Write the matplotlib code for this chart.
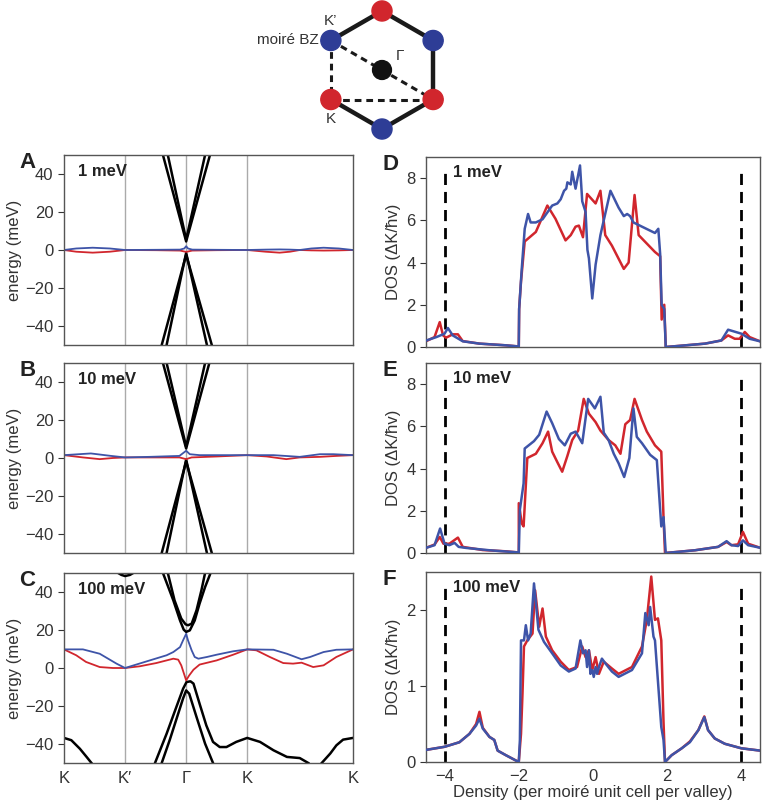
import numpy as np
import matplotlib
matplotlib.use("Agg")
import matplotlib.pyplot as plt
from matplotlib.patches import Circle

plt.rcParams['font.family'] = ['Liberation Sans', 'DejaVu Sans']

RED = "#d1262d"
BLUE = "#3e54a8"
GREY = "#333333"

# ---------------- band structure data (path coordinate: K=0, K'=1, G=2, K=3, K=3+sqrt3)
k_ticks = [0, 1, 2, 3, 4.732]
k_labels = ["K", "K\u2032", "\u0393", "K", "K"]

# panel A (1 meV)
a_blue_k = [0, 0.2, 0.47, 0.75, 1.0, 1.5, 1.9, 1.97, 2.0, 2.03, 2.1, 2.5, 3.0, 3.3, 3.53, 3.7, 3.86, 4.05, 4.25, 4.5, 4.732]
a_blue_e = [0, 0.8, 1.2, 0.8, 0, 0.1, 0.2, 0.8, 2.0, 0.8, 0.2, 0.1, 0, 0.2, 0.3, 0.2, 0, 0.8, 1.2, 0.8, 0]
a_red_k = [0, 0.2, 0.47, 0.75, 1.0, 1.5, 1.9, 2.0, 2.1, 2.5, 3.0, 3.3, 3.53, 3.7, 3.86, 4.05, 4.25, 4.5, 4.732]
a_red_e = [0, -0.9, -1.4, -0.9, 0, -0.1, -0.3, -1.0, -0.3, -0.1, 0, -0.9, -1.4, -0.9, 0, -0.2, -0.3, -0.2, 0]
a_black = [
    ([1.62, 2.0, 2.39], [50, 4.5, 50]),
    ([1.70, 2.0, 2.31], [50, 5.5, 50]),
    ([1.60, 2.0, 2.42], [-50, -2.5, -50]),
    ([1.68, 2.0, 2.34], [-50, -1.5, -50]),
]

# panel B (10 meV)
b_blue_k = [0, 0.44, 0.77, 1.0, 1.4, 1.89, 2.0, 2.06, 2.22, 3.0, 3.43, 3.86, 4.19, 4.41, 4.732]
b_blue_e = [1.5, 2.4, 1.1, 0.3, 0.6, 1.1, 3.8, 2.0, 1.5, 1.5, 1.5, 0.6, 2.0, 2.0, 1.5]
b_red_k = [0, 0.31, 0.585, 0.8, 1.0, 1.4, 1.89, 2.0, 2.09, 2.5, 3.0, 3.32, 3.64, 3.86, 4.19, 4.46, 4.732]
b_red_e = [1.5, 0.3, -0.6, 0, 0.3, 0.3, 0.3, -0.6, 0.3, 0.8, 1.5, 0.8, -0.6, 0.3, 0.6, 1.1, 1.5]
b_black = [
    ([1.62, 2.0, 2.38], [50, 5.0, 50]),
    ([1.68, 2.0, 2.31], [50, 6.0, 50]),
    ([1.60, 2.0, 2.42], [-50, -1.8, -50]),
    ([1.68, 2.0, 2.34], [-50, -0.8, -50]),
]

# panel C (100 meV)
c_blue_k = [0, 0.31, 0.585, 0.86, 1.0, 1.405, 1.68, 1.79, 1.90, 1.95, 2.0, 2.03, 2.09, 2.14, 2.20, 2.34, 2.50, 2.77, 3.0, 3.43, 3.65, 3.89, 4.03, 4.25, 4.46, 4.732]
c_blue_e = [9.8, 9.8, 7.5, 2.3, 0, 4.0, 6.7, 8.4, 11.0, 14.6, 18.0, 14.6, 9.3, 5.8, 4.9, 5.8, 7.0, 8.8, 9.8, 9.6, 7.5, 4.6, 5.8, 8.4, 9.6, 9.8]
c_red_k = [0, 0.2, 0.36, 0.585, 0.8, 1.0, 1.24, 1.51, 1.79, 1.87, 1.92, 2.0, 2.05, 2.12, 2.22, 2.5, 2.77, 3.0, 3.15, 3.37, 3.59, 3.75, 3.89, 4.08, 4.25, 4.46, 4.732]
c_red_e = [9.8, 6.7, 3.2, 0.5, 0, 0, 0.9, 2.6, 4.9, 4.4, 1.4, -6.5, -3.9, -0.9, 1.8, 4.0, 7.0, 9.8, 9.3, 5.8, 2.6, 2.3, 2.8, 0.5, 1.4, 5.8, 9.8]
c_black = [
    # upper bands
    ([1.62, 1.79, 1.90, 1.96, 2.0, 2.06, 2.14, 2.22, 2.31, 2.40],
     [50, 35.6, 25.0, 20.2, 19.0, 19.8, 25.0, 33.9, 42.6, 50]),
    ([1.70, 1.81, 1.92, 1.99, 2.03, 2.09, 2.17, 2.25, 2.31],
     [50, 35.6, 26.0, 23.0, 22.5, 23.3, 30.4, 40.9, 50]),
    ([0.80, 0.86, 0.94, 1.0, 1.08, 1.16, 1.22],
     [51, 50.5, 49.0, 48.4, 49.0, 50.5, 51]),
    # lower bands
    ([1.49, 1.68, 1.84, 1.95, 2.006, 2.07, 2.12, 2.22, 2.33, 2.44, 2.55, 2.66, 2.82, 3.0, 3.21, 3.43, 3.65, 3.86, 4.0],
     [-50, -34.6, -20.5, -10.9, -7.4, -7.0, -8.2, -18.8, -30.2, -38.9, -41.6, -41.6, -38.9, -36.8, -38.9, -43.3, -46.8, -47.4, -50]),
    ([1.60, 1.73, 1.87, 1.95, 2.0, 2.05, 2.17, 2.31, 2.44],
     [-50, -38.0, -24.0, -16.0, -11.8, -13.5, -25.8, -39.8, -50]),
    ([0, 0.12, 0.26, 0.37, 0.45], [-36.8, -38.0, -42.5, -46.8, -50]),
    ([4.22, 4.36, 4.46, 4.57, 4.732], [-50, -45.0, -40.7, -37.7, -36.8]),
]

# ---------------- density of states data
# panel D (1 meV)
d_red_n = [-4.49, -4.27, -4.13, -4.04, -3.96, -3.78, -3.64, -3.51, -3.06, -2.35, -2.03, -2.0,
           -1.99, -1.94, -1.84, -1.54, -1.23, -1.01, -0.74, -0.60, -0.47, -0.38, -0.27, -0.16, 0.07, 0.20,
           0.33, 0.51, 0.83, 0.96, 1.12, 1.23, 1.67, 1.81, 1.85, 1.92, 1.96,
           2.30, 3.02, 3.46, 3.64, 3.82, 3.95, 4.09, 4.22, 4.5]
d_red_dos = [0.28, 0.47, 1.18, 0.55, 0.44, 0.6, 0.6, 0.28, 0.16, 0.08, 0.03, 0.0,
             1.8, 3.1, 5.0, 5.45, 6.7, 6.07, 5.05, 5.3, 5.7, 5.75, 5.2, 7.25, 6.8, 7.4,
             5.3, 4.8, 3.7, 4.0, 7.2, 5.3, 4.5, 4.3, 1.3, 2.0, 0.0,
             0.05, 0.16, 0.31, 0.55, 0.39, 0.39, 0.71, 0.47, 0.27]
d_blue_n = [-4.49, -4.22, -4.0, -3.91, -3.78, -3.51, -3.06, -2.35, -2.03, -2.0,
            -1.99, -1.92, -1.84, -1.75, -1.68, -1.54, -1.36, -1.10, -0.96, -0.87, -0.78, -0.72, -0.69,
            -0.60, -0.56, -0.47, -0.35, -0.29, -0.20, -0.15, -0.11, -0.02, 0.07, 0.20, 0.47, 0.69,
            0.83, 0.92, 1.00, 1.09, 1.32, 1.67, 1.76, 1.81, 1.85, 1.92, 1.96,
            2.30, 3.02, 3.46, 3.64, 4.0, 4.22, 4.5]
d_blue_dos = [0.31, 0.47, 0.63, 0.9, 0.55, 0.27, 0.16, 0.08, 0.03, 0.0,
              1.8, 3.7, 5.6, 6.3, 5.9, 5.9, 6.05, 6.7, 6.8, 7.0, 7.4, 7.5, 7.8,
              7.7, 8.3, 7.5, 8.6, 6.9, 6.4, 4.6, 4.2, 2.3, 3.9, 5.3, 7.4, 6.6,
              6.2, 6.3, 6.2, 5.9, 5.7, 5.4, 5.6, 4.4, 2.0, 1.8, 0.0,
              0.05, 0.16, 0.31, 0.82, 0.63, 0.39, 0.27]

# panel E (10 meV)
e_red_n = [-4.49, -4.27, -4.13, -4.03, -3.87, -3.64, -3.51, -2.97, -2.35, -2.03, -2.0,
           -2.0, -1.92, -1.87, -1.77, -1.54, -1.36, -1.21, -1.10, -0.96, -0.83, -0.69, -0.56, -0.40,
           -0.25, -0.11, 0.07, 0.20, 0.42, 0.60, 0.74, 0.87, 1.00, 1.12, 1.32, 1.45, 1.67, 1.84, 1.90, 1.94,
           2.75, 3.37, 3.60, 3.73, 3.91, 4.04, 4.18, 4.5]
e_red_dos = [0.25, 0.4, 0.76, 0.44, 0.44, 0.73, 0.29, 0.14, 0.08, 0.03, 0.0,
             2.36, 1.4, 1.26, 4.5, 4.7, 5.2, 5.75, 4.8, 4.3, 3.85, 4.6, 5.35, 5.8,
             7.3, 6.6, 6.2, 5.8, 5.35, 5.1, 4.7, 6.1, 6.3, 7.3, 6.3, 5.75, 5.1, 4.8, 1.7, 0.0,
             0.13, 0.29, 0.52, 0.37, 0.41, 1.0, 0.44, 0.25]
e_blue_n = [-4.49, -4.27, -4.12, -4.0, -3.87, -3.73, -3.62, -3.42, -2.79, -2.03, -2.0,
            -1.97, -1.87, -1.84, -1.59, -1.45, -1.25, -1.10, -0.92, -0.76, -0.60, -0.47, -0.29,
            -0.13, 0.05, 0.20, 0.29, 0.42, 0.56, 0.69, 0.84, 0.98, 1.09, 1.18, 1.32, 1.54, 1.72,
            1.84, 1.90, 1.96,
            2.75, 3.37, 3.60, 3.73, 3.91, 4.04, 4.18, 4.5]
e_blue_dos = [0.25, 0.37, 1.16, 0.44, 0.37, 0.48, 0.29, 0.24, 0.13, 0.03, 0.0,
              2.05, 3.3, 4.95, 5.3, 5.6, 6.7, 6.15, 5.4, 5.1, 5.65, 5.75, 5.2,
              7.3, 6.85, 7.4, 5.7, 5.35, 4.7, 4.25, 3.6, 4.5, 6.85, 5.5, 5.2, 4.65, 4.4,
              1.26, 1.7, 0.0,
              0.13, 0.29, 0.56, 0.37, 0.33, 0.6, 0.37, 0.25]

# panel F (100 meV)
f_red_n = [-4.49, -4.0, -3.60, -3.33, -3.15, -3.06, -2.97, -2.79, -2.66, -2.57, -2.35, -2.08, -2.0,
           -1.94, -1.90, -1.86, -1.77, -1.63, -1.56, -1.45, -1.36, -1.27, -1.10, -0.87, -0.65, -0.43,
           -0.29, -0.20, -0.11, -0.02, 0.07, 0.16, 0.29, 0.51, 0.69, 1.05, 1.32, 1.45, 1.57, 1.67,
           1.75, 1.84, 1.90, 1.94,
           2.12, 2.39, 2.61, 2.84, 3.0, 3.10, 3.28, 3.55, 4.0, 4.5]
f_red_dos = [0.16, 0.2, 0.26, 0.37, 0.5, 0.66, 0.45, 0.33, 0.29, 0.15, 0.09, 0.02, 0.0,
             0.37, 0.9, 1.52, 1.6, 1.69, 2.26, 1.78, 2.02, 1.65, 1.47, 1.32, 1.21, 1.25,
             1.52, 1.38, 1.47, 1.21, 1.38, 1.16, 1.32, 1.23, 1.16, 1.25, 1.52, 1.87, 2.44, 1.87,
             1.89, 1.6, 0.53, 0.0,
             0.09, 0.18, 0.27, 0.42, 0.6, 0.42, 0.31, 0.24, 0.18, 0.15]
f_blue_n = [-4.49, -4.0, -3.60, -3.33, -3.15, -3.06, -2.97, -2.79, -2.66, -2.57, -2.35, -2.08, -2.0,
            -1.97, -1.94, -1.86, -1.81, -1.75, -1.68, -1.59, -1.47, -1.32, -1.10, -0.87, -0.65, -0.47,
            -0.34, -0.27, -0.20, -0.16, -0.11, -0.07, -0.02, 0.02, 0.07, 0.11, 0.16, 0.24, 0.33, 0.51,
            0.69, 1.05, 1.32, 1.41, 1.50, 1.54, 1.63, 1.67, 1.84, 1.90, 1.94,
            2.12, 2.39, 2.61, 2.84, 3.0, 3.10, 3.28, 3.55, 4.0, 4.5]
f_blue_dos = [0.16, 0.2, 0.26, 0.37, 0.48, 0.57, 0.44, 0.33, 0.29, 0.15, 0.09, 0.02, 0.0,
              0.29, 1.6, 1.6, 1.8, 1.6, 1.69, 2.35, 1.74, 1.58, 1.43, 1.27, 1.19, 1.23,
              1.6, 1.43, 1.47, 1.25, 1.47, 1.16, 1.21, 1.12, 1.25, 1.16, 1.25, 1.36, 1.3, 1.19,
              1.12, 1.21, 1.43, 1.96, 1.8, 2.04, 1.65, 1.6, 0.46, 0.29, 0.0,
              0.09, 0.18, 0.26, 0.42, 0.59, 0.42, 0.31, 0.24, 0.18, 0.15]

fig = plt.figure(figsize=(7.62, 8.09), dpi=100)

H = 190 / 809
left_x, left_w = 64 / 762, 289 / 762
right_x, right_w = 426 / 762, 334 / 762
bottoms_left = [(809 - 345) / 809, (809 - 553) / 809, (809 - 763) / 809]
bottoms_right = [(809 - 347) / 809, (809 - 553) / 809, (809 - 762) / 809]


def style_axes(ax):
    for s in ax.spines.values():
        s.set_color("#555555")
        s.set_linewidth(1.0)
    ax.tick_params(colors=GREY, labelsize=12, length=4, width=0.8, direction="out")


bands = [
    ("A", "1 meV", a_blue_k, a_blue_e, a_red_k, a_red_e, a_black),
    ("B", "10 meV", b_blue_k, b_blue_e, b_red_k, b_red_e, b_black),
    ("C", "100 meV", c_blue_k, c_blue_e, c_red_k, c_red_e, c_black),
]
for i, (lett, txt, bk, be, rk, re_, blk) in enumerate(bands):
    ax = fig.add_axes([left_x, bottoms_left[i], left_w, H])
    style_axes(ax)
    for xv in k_ticks[1:4]:
        ax.axvline(xv, color="#aaaaaa", lw=1.0, zorder=0)
    for kk, ee in blk:
        ax.plot(kk, ee, color="black", lw=1.8, solid_joinstyle="round")
    ax.plot(rk, re_, color=RED, lw=1.3)
    ax.plot(bk, be, color=BLUE, lw=1.3)
    ax.set_xlim(0, 4.732)
    ax.set_ylim(-50, 50)
    ax.set_yticks([-40, -20, 0, 20, 40])
    ax.set_yticklabels(["\u221240", "\u221220", "0", "20", "40"])
    ax.set_ylabel("energy (meV)", fontsize=12, color=GREY, labelpad=2)
    ax.set_xticks(k_ticks)
    if i == 2:
        ax.set_xticklabels(k_labels)
        ax.tick_params(axis="x", length=0, pad=6)
    else:
        ax.set_xticklabels([])
        ax.tick_params(axis="x", length=0)
    ax.text(0.05, 0.915, txt, transform=ax.transAxes, fontsize=12, fontweight="bold",
            va="center", ha="left", color="#222222")
    ax.text(-0.155, 1.015, lett, transform=ax.transAxes, fontsize=16, fontweight="bold",
            va="top", ha="left", color="#222222")

dos = [
    ("D", "1 meV", d_red_n, d_red_dos, d_blue_n, d_blue_dos, 9, [0, 2, 4, 6, 8]),
    ("E", "10 meV", e_red_n, e_red_dos, e_blue_n, e_blue_dos, 9, [0, 2, 4, 6, 8]),
    ("F", "100 meV", f_red_n, f_red_dos, f_blue_n, f_blue_dos, 2.5, [0, 1, 2]),
]
for i, (lett, txt, rn, rd, bn, bd, ymax, yt) in enumerate(dos):
    ax = fig.add_axes([right_x, bottoms_right[i], right_w, H])
    style_axes(ax)
    for xv in (-4, 4):
        ax.axvline(xv, ymin=0, ymax=0.95, color="black", lw=2.0, dashes=(4, 2.5), zorder=1)
    ax.plot(rn, rd, color=RED, lw=1.8, zorder=2)
    ax.plot(bn, bd, color=BLUE, lw=1.8, zorder=3)
    ax.set_xlim(-4.5, 4.5)
    ax.set_ylim(0, ymax)
    ax.set_yticks(yt)
    ax.set_xticks([-4, -2, 0, 2, 4])
    ax.set_ylabel("DOS (\u0394K/\u0127v)", fontsize=12, color=GREY, labelpad=4)
    if i == 2:
        ax.set_xticklabels(["\u22124", "\u22122", "0", "2", "4"])
        ax.set_xlabel("Density (per moir\u00e9 unit cell per valley)", fontsize=12, color=GREY, labelpad=1)
        ax.tick_params(axis="x", length=0, pad=5)
    else:
        ax.set_xticklabels([])
        ax.tick_params(axis="x", length=0)
    ax.text(0.08, 0.92, txt, transform=ax.transAxes, fontsize=12, fontweight="bold",
            va="center", ha="left", color="#222222")
    ax.text(-0.13, 1.015, lett, transform=ax.transAxes, fontsize=16, fontweight="bold",
            va="top", ha="left", color="#222222")

# ---------------- moire Brillouin zone sketch
hex_names = ["top", "ur", "lr", "bot", "ll", "ul"]
hex_colors = [RED, "#2e3d96", RED, "#2e3d96", RED, "#2e3d96"]
ang = np.deg2rad([90, 30, -30, -90, -150, 150])
hx, hy = np.cos(ang), np.sin(ang)
solid_edges = [(0, 1), (1, 2), (2, 3), (3, 4), (5, 0)]
dashed_paths = [[5, 4], [4, 2]]

axh = fig.add_axes([232 / 762, (809 - 140) / 809, 300 / 762, 140 / 809])
axh.set_xlim(-2.54, 2.54)
axh.set_ylim(-1.186, 1.186)
axh.axis("off")
for a, b in solid_edges:
    axh.plot([hx[a], hx[b]], [hy[a], hy[b]], color="#1a1a1a", lw=3.2, solid_capstyle="round")
for a, b in dashed_paths:
    axh.plot([hx[a], hx[b]], [hy[a], hy[b]], color="#1a1a1a", lw=2.2, dashes=(2.2, 1.6))
axh.plot([hx[5], 0, hx[2]], [hy[5], 0, hy[2]], color="#1a1a1a", lw=2.2, dashes=(2.2, 1.6))
for x0, y0, c in zip(hx, hy, hex_colors):
    axh.add_patch(Circle((x0, y0), 0.17, color=c, zorder=5))
axh.add_patch(Circle((0, 0), 0.16, color="#111111", zorder=5))
axh.text(hx[5], hy[5] + 0.22, "K\u2019", fontsize=11, ha="center", va="bottom", color=GREY)
axh.text(hx[5] - 0.2, hy[5], "moir\u00e9 BZ", fontsize=11, ha="right", va="center", color=GREY)
axh.text(0.24, 0.24, "\u0393", fontsize=11, ha="left", va="center", color=GREY)
axh.text(hx[4], hy[4] - 0.22, "K", fontsize=11, ha="center", va="top", color=GREY)

fig.savefig("out.png", dpi=100)
